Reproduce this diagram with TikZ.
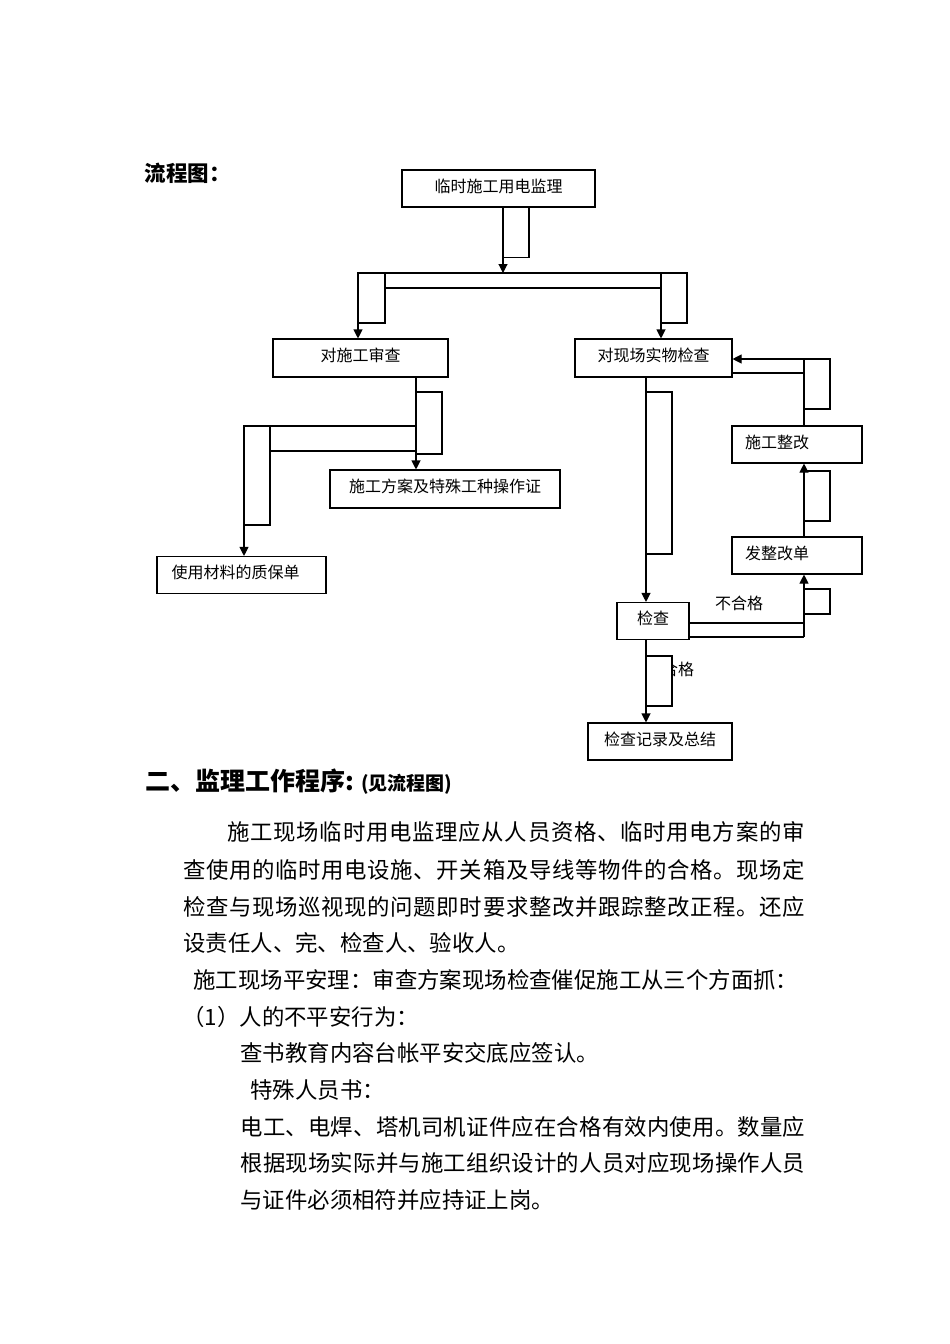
\documentclass[tikz,border=0pt]{standalone}
\usepackage{fontspec}
\setmainfont{Noto Sans CJK SC}
\usetikzlibrary{arrows.meta}
\newcommand\spread[1]{\addfontfeature{LetterSpace=#1}}
\tikzstyle{none}=[]
\tikzstyle{box}=[draw, rectangle, inner sep=0pt, minimum height=37pt, text height=12pt, text depth=5pt, font=\fontsize{16}{19}\selectfont]
\tikzstyle{lbox}=[box, align=left]
\tikzstyle{tag}=[inner sep=0pt, font=\fontsize{16}{19}\selectfont]
\tikzstyle{body}=[anchor=west, inner sep=0pt, font=\fontsize{22.4}{30}\selectfont]
\tikzstyle{flow}=[-{Triangle[width=9pt,length=9pt]}]

\begin{document}
\begin{tikzpicture}[x=1pt, y=-1pt, line width=1.1pt]
                \useasboundingbox (0, 0) rectangle (950, 1344);
                \node [style=none, anchor=west, inner sep=0pt, font=\fontsize{21.5}{26}\selectfont\bfseries] (t) at (144, 173) {流程图：};
                \node [style=box, minimum width=193pt] (0) at (498.5, 188.5) {临时施工用电监理};
                \node [style=box, minimum width=175pt, minimum height=38pt] (1) at (360.5, 358) {对施工审查};
                \node [style=box, minimum width=157pt, minimum height=38pt] (2) at (653.5, 358) {对现场实物检查};
                \node [style=box, minimum width=230pt, minimum height=38pt] (3) at (445, 489) {施工方案及特殊工种操作证};
                \node [style=lbox, text width=140pt, inner xsep=14.5pt] (4) at (241.5, 575) {使用材料的质保单};
                \node [style=box, minimum width=72pt] (5) at (653, 621) {检查};
                \node [style=box, minimum width=144pt] (6) at (660, 741.5) {检查记录及总结};
                \node [style=lbox, text width=104pt, inner xsep=13pt] (7) at (797, 444.5) {施工整改};
                \node [style=lbox, text width=104pt, inner xsep=13pt] (8) at (797, 555.5) {发整改单};
                \node [style=tag] (9) at (739, 603) {不合格};
                \node [style=tag] (10) at (678, 669) {合格};
                \coordinate (20) at (503, 273);
                \coordinate (21) at (358, 273);
                \coordinate (22) at (687, 273);
                \coordinate (23) at (661, 273);
                \coordinate (24) at (416, 426);
                \coordinate (25) at (244, 426);
                \coordinate (26) at (646, 392);
                \coordinate (27) at (646, 656);
                \coordinate (28) at (804, 637);
                \coordinate (29) at (804, 471);
                \coordinate (30) at (804, 359);
                % top box to the two branches
                \draw [style=flow] (0.south -| 20) to (20);
                \draw (0.south -| 20) rectangle ++(26, 50);
                \draw (21) to (22);
                \draw (385, 288) to (661, 288);
                \draw [style=flow] (21) to (21 |- 1.north);
                \draw (21) rectangle ++(27, 50);
                \draw [style=flow] (23) to (23 |- 2.north);
                \draw (23) rectangle ++(26, 50);
                % left branch
                \draw [style=flow] (1.south -| 24) to (24 |- 3.north);
                \draw (416, 392) rectangle (442, 454);
                \draw (25) to (24);
                \draw (270, 451) to (416, 451);
                \draw [style=flow] (25) to (25 |- 4.north);
                \draw (25) rectangle (270, 525);
                % right branch
                \draw [style=flow] (2.south -| 26) to (26 |- 5.north);
                \draw (26) rectangle ++(26, 162);
                \draw [style=flow] (5.south -| 27) to (27 |- 6.north);
                \draw [fill=white] (27) rectangle ++(26, 50);
                \draw (5.east |- 28) to (28);
                \draw (5.east |- 0, 623) to (804, 623);
                \draw [style=flow] (28) to (28 |- 8.south);
                \draw (804, 589) rectangle ++(26, 25);
                \draw [style=flow] (8.north -| 29) to (29 |- 7.south);
                \draw (29) rectangle ++(26, 50);
                \draw [style=flow] (7.north -| 30) to (30) to (30 -| 2.east);
                \draw (30) to ++(26, 0) to ++(0, 50) to ++(-26, 0);
                \draw (2.east |- 0, 373) to (804, 373);
                % text below the chart
                \node [style=none, anchor=west, inner sep=0pt] (40) at (145, 782) {{\fontsize{25}{30}\selectfont\bfseries 二、监理工作程序:}\hspace{7pt}{\fontsize{19}{23}\selectfont\bfseries (见流程图)}};
                \node [style=body] (41) at (227, 831.7) {\spread{3.2}施工现场临时用电监理应从人员资格、临时用电方案的审};
                \node [style=body] (42) at (183, 870) {\spread{2.85}查使用的临时用电设施、开关箱及导线等物件的合格。现场定};
                \node [style=body] (43) at (183, 906.7) {\spread{2.85}检查与现场巡视现的问题即时要求整改并跟踪整改正程。还应};
                \node [style=body] (44) at (183, 943.3) {设责任人、完、检查人、验收人。};
                \node [style=body] (45) at (193, 980) {施工现场平安理：审查方案现场检查催促施工从三个方面抓：};
                \node [style=body] (46) at (182, 1016.7) {（1）人的不平安行为：};
                \node [style=body] (47) at (240, 1053.3) {查书教育内容台帐平安交底应签认。};
                \node [style=body] (48) at (250, 1090) {特殊人员书：};
                \node [style=body] (49) at (240, 1126.7) {\spread{0.9}电工、电焊、塔机司机证件应在合格有效内使用。数量应};
                \node [style=body] (50) at (240, 1163.3) {\spread{0.9}根据现场实际并与施工组织设计的人员对应现场操作人员};
                \node [style=body] (51) at (240, 1200) {与证件必须相符并应持证上岗。};
    \end{tikzpicture}
\end{document}
